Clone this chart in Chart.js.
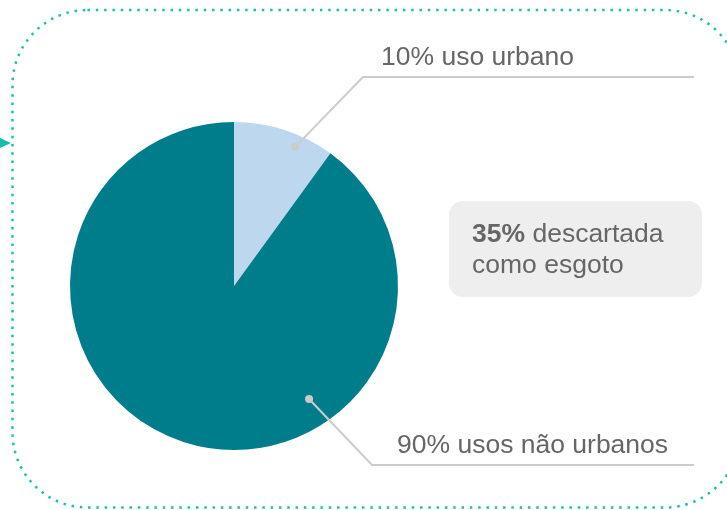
<!DOCTYPE html>
<html>
<head>
<meta charset="utf-8">
<script src="https://cdn.jsdelivr.net/npm/chart.js@4.4.0/dist/chart.umd.min.js"></script>
<style>
  html, body { margin: 0; padding: 0; background: #fff; }
  #wrap { width: 727px; height: 510px; position: relative; }
</style>
</head>
<body>
<div id="wrap"><canvas id="pie" width="727" height="510"></canvas></div>
<script>
const categorias = ['uso urbano', 'usos não urbanos'];
const valores = [10, 90];
const cores = ['#bdd7ee', '#007d8a'];
const rotulos = ['10% uso urbano', '90% usos não urbanos'];
const destaqueNum = '35%';
const destaqueTxt = ['descartada', 'como esgoto'];

const fonte = '26.5px "Liberation Sans", Arial, sans-serif';
const fonteBold = 'bold 26.5px "Liberation Sans", Arial, sans-serif';
const cinza = '#666666';
const linhaCor = '#cccccc';
const teal = '#1cc0b0';

// moldura pontilhada + setinha
const moldura = {
  id: 'moldura',
  beforeDraw(chart){
    const ctx = chart.ctx;
    const l = 12.5, t = 10, r = 740, b = 507.5, rad = 75;
    ctx.save();
    ctx.strokeStyle = teal;
    ctx.lineWidth = 2.5;
    ctx.setLineDash([2.5, 5.8]);
    ctx.beginPath();
    ctx.moveTo(l + rad, t);
    ctx.lineTo(r - rad, t);
    ctx.arcTo(r, t, r, t + rad, rad);
    ctx.lineTo(r, b - rad);
    ctx.arcTo(r, b, r - rad, b, rad);
    ctx.lineTo(l + rad, b);
    ctx.arcTo(l, b, l, b - rad, rad);
    ctx.lineTo(l, t + rad);
    ctx.arcTo(l, t, l + rad, t, rad);
    ctx.closePath();
    ctx.stroke();
    ctx.setLineDash([]);
    ctx.fillStyle = '#14bfae';
    ctx.beginPath();
    ctx.moveTo(0, 138);
    ctx.lineTo(11, 143);
    ctx.lineTo(0, 148);
    ctx.closePath();
    ctx.fill();
    ctx.restore();
  }
};

// rotulos com linha de chamada
const chamadas = {
  id: 'chamadas',
  afterDraw(chart, args, opts){
    const ctx = chart.ctx;
    const arcs = chart.getDatasetMeta(0).data;
    ctx.save();
    opts.itens.forEach(function(it, i){
      const arc = arcs[i];
      const ang = it.ang * Math.PI / 180;
      const px = arc.x + Math.cos(ang) * arc.outerRadius * it.frac;
      const py = arc.y + Math.sin(ang) * arc.outerRadius * it.frac;
      ctx.strokeStyle = linhaCor;
      ctx.lineWidth = 2;
      ctx.beginPath();
      ctx.moveTo(px, py);
      ctx.lineTo(it.cx, it.cy);
      ctx.lineTo(it.fim, it.cy);
      ctx.stroke();
      ctx.fillStyle = linhaCor;
      ctx.beginPath();
      ctx.arc(px, py, 4, 0, Math.PI * 2);
      ctx.fill();
      ctx.fillStyle = cinza;
      ctx.font = fonte;
      ctx.textBaseline = 'alphabetic';
      ctx.fillText(rotulos[i], it.tx, it.ty);
    });

    // caixa de destaque
    const bx = 449, by = 201, bw = 253, bh = 96;
    ctx.fillStyle = '#eeeeee';
    ctx.beginPath();
    ctx.roundRect(bx, by, bw, bh, 14);
    ctx.fill();
    ctx.fillStyle = cinza;
    ctx.font = fonteBold;
    ctx.fillText(destaqueNum, 472, 242);
    const w = ctx.measureText(destaqueNum + ' ').width;
    ctx.font = fonte;
    ctx.fillText(destaqueTxt[0], 472 + w, 242);
    ctx.fillText(destaqueTxt[1], 472, 273);
    ctx.restore();
  }
};

new Chart(document.getElementById('pie'), {
  type: 'pie',
  data: {
    labels: categorias,
    datasets: [{
      data: valores,
      backgroundColor: cores,
      borderWidth: 0
    }]
  },
  options: {
    responsive: false,
    animation: false,
    layout: { padding: { left: 70, top: 122, right: 329, bottom: 60 } },
    plugins: {
      legend: { display: false },
      tooltip: { enabled: false },
      chamadas: {
        itens: [
          { ang: -66.3, frac: 0.925, cx: 363, cy: 77, fim: 694, tx: 381, ty: 65 },
          { ang: 56.4, frac: 0.827, cx: 372, cy: 465, fim: 694, tx: 397, ty: 453 }
        ]
      }
    }
  },
  plugins: [moldura, chamadas]
});
</script>
</body>
</html>
